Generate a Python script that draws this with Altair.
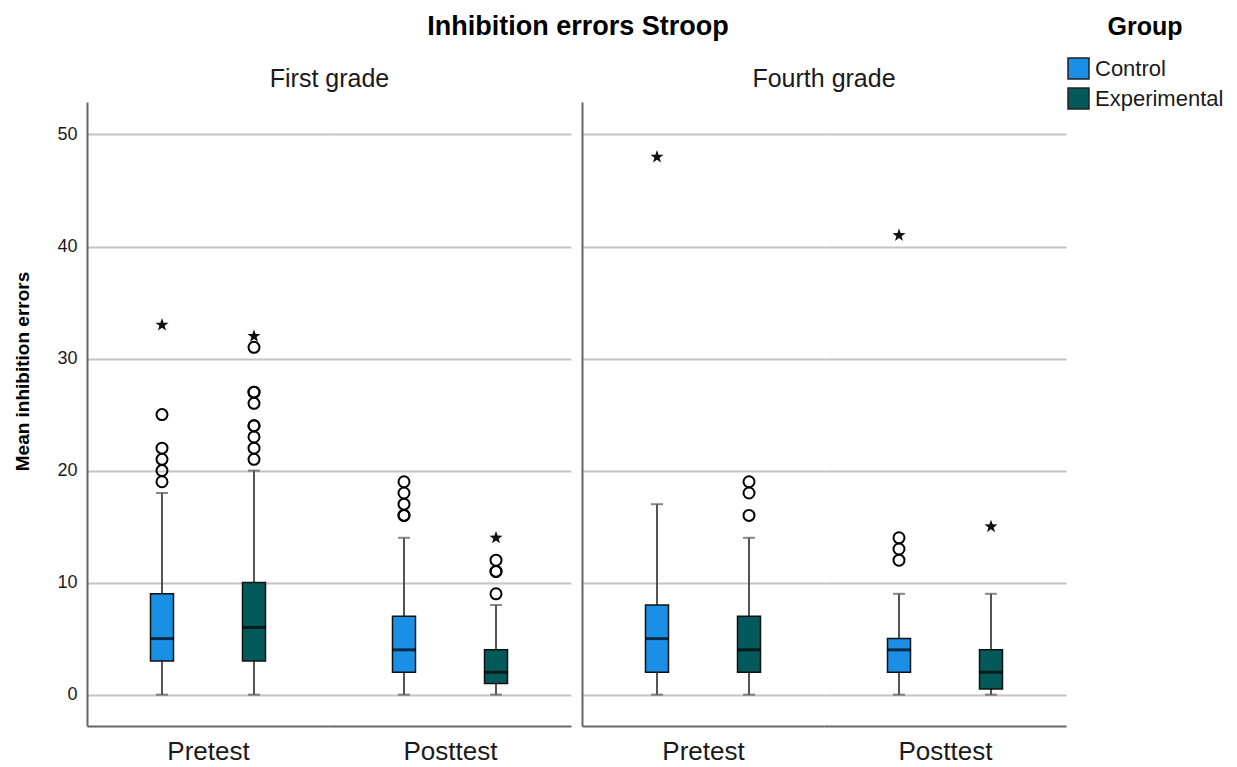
import altair as alt
import pandas as pd

# ---- data ----
grades = ["First grade"] * 4 + ["Fourth grade"] * 4
phases = ["Pretest", "Pretest", "Posttest", "Posttest"] * 2
groups = ["Control", "Experimental"] * 4
q1 = [3, 3, 2, 1, 2, 2, 2, 0.5]
medians = [5, 6, 4, 2, 5, 4, 4, 2]
q3 = [9, 10, 7, 4, 8, 7, 5, 4]
whisker_low = [0, 0, 0, 0, 0, 0, 0, 0]
whisker_high = [18, 20, 14, 8, 17, 14, 9, 9]
outliers = [
    [19, 20, 21, 22, 25],
    [21, 22, 23, 24, 24, 26, 27, 27, 31],
    [16, 16, 17, 18, 19],
    [9, 11, 11, 12],
    [],
    [16, 18, 19],
    [12, 13, 14],
    [],
]
extremes = [[33], [32], [], [14], [48], [], [41], [15]]

grade_order = ["First grade", "Fourth grade"]
phase_order = ["Pretest", "Posttest"]
group_order = ["Control", "Experimental"]
group_colors = ["#1A8FE6", "#045A5A"]
y_ticks = [0, 10, 20, 30, 40, 50]

box_rows, out_rows, ext_rows = [], [], []
for i in range(len(grades)):
    b = dict(grade=grades[i], phase=phases[i], group=groups[i])
    box_rows.append(dict(b, q1=q1[i], med=medians[i], q3=q3[i],
                         lo=whisker_low[i], hi=whisker_high[i]))
    for v in outliers[i]:
        out_rows.append(dict(b, val=v))
    for v in extremes[i]:
        ext_rows.append(dict(b, val=v))
box_df = pd.DataFrame(box_rows)
out_df = pd.DataFrame(out_rows)
ext_df = pd.DataFrame(ext_rows)

FONT = "Liberation Sans"
SUB_W, H = 242, 624
y_scale = alt.Scale(domain=[-2.8, 52.9], nice=False, zero=False)

# five-pointed star symbol (unit coordinates) for extreme values
STAR = ("M0,-1L0.235,-0.324L0.951,-0.309L0.380,0.124L0.588,0.809L0,0.4"
        "L-0.588,0.809L-0.380,0.124L-0.951,-0.309L-0.235,-0.324Z")

legend = alt.Legend(title="Group", orient="none", legendX=980, legendY=-87,
                    titleFont=FONT, titleFontSize=25, titleFontWeight="bold",
                    titleColor="#000000", titlePadding=17, titleAnchor="middle",
                    labelFont=FONT, labelFontSize=22, labelColor="#1a1a1a",
                    symbolType="square", symbolSize=441,
                    symbolStrokeColor="#222222", symbolStrokeWidth=1.5,
                    rowPadding=3, labelOffset=5)


def sub_panel(grade, phase, y_mode):
    sel = lambda d: d[(d.grade == grade) & (d.phase == phase)]
    bdf, odf, edf = sel(box_df), sel(out_df), sel(ext_df)

    x_enc = alt.X(
        "group:N", sort=group_order,
        scale=alt.Scale(domain=group_order, paddingInner=0, paddingOuter=0.315),
        axis=alt.Axis(title=phase, labels=False, ticks=False, domainColor="#666666",
                      domainWidth=2, titleFont=FONT, titleFontSize=26,
                      titleFontWeight="normal", titleColor="#1a1a1a", titlePadding=12),
    )
    if y_mode == "full":
        y_axis = alt.Axis(title="Mean inhibition errors", values=y_ticks, labelFontSize=18,
                          labelFont=FONT, labelColor="#1a1a1a", titleFont=FONT,
                          titleFontSize=19, titleFontWeight="bold", titleColor="#000000",
                          ticks=False, domainColor="#666666", domainWidth=2,
                          gridColor="#C4C4C4", gridWidth=2, labelPadding=10,
                          titlePadding=24, titleY=269)
    elif y_mode == "line":
        y_axis = alt.Axis(title=None, values=y_ticks, labels=False, ticks=False,
                          domainColor="#666666", domainWidth=2,
                          gridColor="#C4C4C4", gridWidth=2)
    else:
        y_axis = alt.Axis(title=None, values=y_ticks, labels=False, ticks=False,
                          domain=False, gridColor="#C4C4C4", gridWidth=2)

    whisker = alt.Chart(bdf).mark_rule(color="#555555", strokeWidth=2).encode(
        x=x_enc, y=alt.Y("lo:Q", scale=y_scale, axis=y_axis), y2="hi:Q")
    cap_hi = alt.Chart(bdf).mark_tick(color="#555555", size=12, thickness=2).encode(
        x=x_enc, y=alt.Y("hi:Q", scale=y_scale))
    cap_lo = alt.Chart(bdf).mark_tick(color="#555555", size=12, thickness=2).encode(
        x=x_enc, y=alt.Y("lo:Q", scale=y_scale))
    boxes = alt.Chart(bdf).mark_bar(size=23, stroke="#111111", strokeWidth=1.5).encode(
        x=x_enc, y=alt.Y("q1:Q", scale=y_scale), y2="q3:Q",
        color=alt.Color("group:N",
                        scale=alt.Scale(domain=group_order, range=group_colors),
                        legend=legend),
    )
    median = alt.Chart(bdf).mark_tick(color="#000000", size=23, thickness=3).encode(
        x=x_enc, y=alt.Y("med:Q", scale=y_scale))
    out_pts = alt.Chart(odf).mark_point(shape="circle", size=121, filled=False,
                                        color="#000000", strokeWidth=2,
                                        opacity=1).encode(
        x=x_enc, y=alt.Y("val:Q", scale=y_scale))
    ext_pts = alt.Chart(edf).mark_point(shape=STAR, size=190, filled=True,
                                        color="#111111", opacity=1).encode(
        x=x_enc, y=alt.Y("val:Q", scale=y_scale))

    return alt.layer(whisker, cap_hi, cap_lo, boxes, median, out_pts, ext_pts).properties(
        width=SUB_W, height=H)


def grade_panel(grade, first):
    left = sub_panel(grade, "Pretest", "full" if first else "line")
    right = sub_panel(grade, "Posttest", "none")
    return alt.hconcat(left, right, spacing=0).properties(
        title=alt.TitleParams(grade, font=FONT, fontSize=25, fontWeight="normal",
                              color="#1a1a1a", anchor="middle", offset=10,
                              dx=37 if first else 0))


chart = alt.hconcat(grade_panel(grade_order[0], True), grade_panel(grade_order[1], False),
                    spacing=11).resolve_scale(color="shared").properties(
    title=alt.TitleParams("Inhibition errors Stroop", font=FONT, fontSize=27,
                          fontWeight="bold", color="#000000", anchor="middle", offset=14,
                          dx=-41, dy=40),
).configure_view(strokeWidth=0)

chart.save("out.html", embed_options={"renderer": "svg", "actions": False})
